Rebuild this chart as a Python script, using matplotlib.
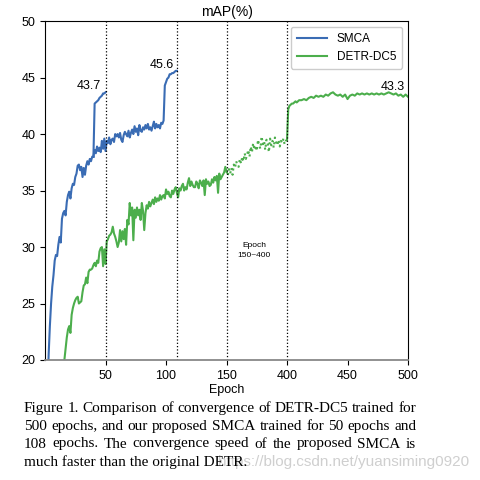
import numpy as np
import matplotlib
matplotlib.use("Agg")
import matplotlib.pyplot as plt

# SMCA, shared part (epochs 1..40)
smca_ep = list(range(1, 41))
smca_val = [12.0, 17.0, 20.5, 23.0, 25.0, 26.5, 27.5, 28.8, 29.3, 29.2,
            30.2, 30.9, 30.4, 32.5, 33.0, 33.2, 32.8, 34.0, 34.6, 34.9,
            34.3, 35.2, 35.6, 35.5, 36.2, 36.5, 37.2, 37.3, 36.8, 37.1,
            36.2, 37.0, 36.4, 37.2, 37.6, 37.3, 37.8, 37.6, 38.0, 38.0]

# SMCA 50-epoch schedule (after lr drop)
smca50_ep = [40, 41, 42, 43, 44, 45, 46, 47, 48, 49, 50]
smca50_val = [38.0, 42.7, 42.8, 42.9, 43.0, 43.2, 43.3, 43.4, 43.6, 43.6, 43.7]

# SMCA 108-epoch schedule
smca108_ep = list(range(40, 110))
smca108_val = [38.0, 38.6, 38.3, 38.9, 38.5, 38.8, 38.4, 39.4, 38.7, 39.6,
               38.5, 39.4, 39.2, 39.7, 39.1, 39.5, 39.6, 39.3, 40.0, 39.8,
               40.0, 39.7, 40.1, 39.5, 39.3, 39.9, 40.2, 40.0, 39.8, 40.3,
               39.7, 40.1, 40.4, 40.0, 40.7, 40.2, 40.5, 39.9, 40.8, 40.3,
               40.2, 40.6, 40.4, 40.8, 40.5, 40.9, 40.4, 40.6, 40.3, 40.7,
               41.1, 40.5, 40.9, 40.6, 40.8, 40.5, 41.0, 40.9, 41.2, 44.3,
               44.6, 44.9, 45.0, 45.3, 45.3, 45.4, 45.4, 45.5, 45.6, 45.6]

# DETR-DC5 epochs 15..150
detr_ep = list(range(15, 151))
detr_val = [19.5, 20.0, 21.0, 22.0, 22.7, 23.0, 22.4, 24.0, 24.6, 25.0,
            25.3, 25.5, 25.6, 25.0, 25.1, 25.2, 26.0, 26.6, 26.7, 27.3,
            26.8, 27.8, 28.0, 28.0, 28.1, 28.4, 28.6, 28.3, 28.8, 28.6,
            29.6, 29.9, 30.0, 28.3, 29.8, 28.5, 30.5, 30.7, 31.0, 31.1,
            31.3, 31.8, 31.2, 30.9, 30.5, 30.0, 30.4, 31.5, 30.5, 31.4,
            30.7, 31.6, 30.2, 32.4, 32.0, 33.9, 32.8, 33.5, 30.6, 33.3,
            32.6, 33.5, 32.8, 33.3, 32.4, 33.9, 33.2, 31.5, 33.0, 33.7,
            33.4, 34.0, 33.6, 33.9, 34.2, 33.8, 34.4, 34.0, 34.3, 34.1,
            34.6, 34.2, 34.5, 34.6, 34.3, 35.1, 34.7, 34.9, 34.5, 34.4,
            35.0, 34.7, 35.1, 35.3, 34.8, 34.4, 35.2, 35.0, 35.4, 35.6,
            35.0, 35.3, 35.1, 35.7, 36.1, 35.4, 35.8, 35.5, 35.3, 35.3,
            35.8, 35.6, 35.2, 35.9, 35.7, 35.4, 35.9, 34.6, 36.0, 35.6,
            35.8, 35.4, 35.5, 36.0, 35.7, 36.2, 35.9, 36.3, 34.8, 36.5,
            36.0, 36.2, 36.4, 36.6, 37.1, 36.7]

# DETR-DC5 epochs 150..400 (compressed, dotted)
detr_mid_ep = list(range(150, 401, 5))
detr_mid_val = [36.7, 36.3, 36.9, 36.5, 37.0, 36.4, 37.3, 37.0, 37.6, 37.2,
                37.1, 37.8, 37.4, 38.0, 37.6, 38.3, 37.8, 38.2, 38.6, 38.0,
                38.9, 38.4, 39.2, 38.6, 39.0, 38.5, 39.5, 39.0, 38.7, 39.8,
                39.1, 39.4, 38.6, 39.5, 39.2, 38.4, 39.6, 39.0, 39.4, 38.8,
                39.7, 39.3, 39.0, 39.5, 38.9, 39.4, 39.2, 39.6, 39.1, 39.4,
                39.5]

# DETR-DC5 epochs 400..500
detr_end_ep = [400, 401, 402, 403, 404, 405, 406, 407, 408, 409] + list(range(410, 501, 2))
detr_end_val = [39.5, 42.2, 42.5, 42.6, 42.7, 42.7, 42.8, 42.9, 42.8, 42.9,
                43.0, 43.0, 43.1, 43.0, 43.2, 43.3, 43.2, 43.4, 43.3, 43.4,
                43.3, 43.5, 43.4, 43.6, 43.7, 43.5, 43.4, 43.5, 43.3, 43.5,
                43.1, 43.4, 43.5, 43.4, 43.6, 43.5, 43.6, 43.5, 43.6, 43.5,
                43.6, 43.5, 43.6, 43.5, 43.6, 43.5, 43.6, 43.7, 43.6, 43.5,
                43.6, 43.4, 43.5, 43.3, 43.5, 43.3]

vlines = [50, 109, 150, 400]
xticks = [50, 100, 150, 400, 450, 500]
yticks = [20, 25, 30, 35, 40, 45, 50]

caption = ["Figure 1. Comparison of convergence of DETR-DC5 trained for",
           "500 epochs, and our proposed SMCA trained for 50 epochs and",
           "108 epochs.  The convergence speed of the proposed SMCA is",
           "much faster than the original DETR."]

blue = "#3a6cb4"
green = "#4cae4c"


def fwd(x):
    x = np.asarray(x, dtype=float)
    return np.where(x <= 150, x, np.where(x <= 400, 150 + (x - 150) / 5.0, x - 200))


def inv(u):
    u = np.asarray(u, dtype=float)
    return np.where(u <= 150, u, np.where(u <= 200, 150 + (u - 150) * 5.0, u + 200))


plt.rcParams["font.family"] = ["Liberation Sans", "DejaVu Sans"]

fig = plt.figure(figsize=(4.81, 4.80), dpi=100)
ax = fig.add_axes([0.0936, 0.25, 0.7547, 0.706])
ax.set_xscale("function", functions=(fwd, inv))

ax.plot(smca_ep, smca_val, color=blue, lw=1.5, label="SMCA")
ax.plot(smca50_ep, smca50_val, color=blue, lw=1.5)
ax.plot(smca108_ep, smca108_val, color=blue, lw=1.5)
ax.plot(detr_ep, detr_val, color=green, lw=1.5, label="DETR-DC5")
ax.plot(detr_mid_ep, detr_mid_val, color=green, lw=1.5, ls=":")
ax.plot(detr_end_ep, detr_end_val, color=green, lw=1.5)

for v in vlines:
    ax.axvline(v, color="black", ls=":", lw=0.9)

ax.annotate("43.7", (50, 43.7), textcoords="offset points", xytext=(-3, 0),
            ha="right", va="bottom", fontsize=9)
ax.annotate("45.6", (109, 45.6), textcoords="offset points", xytext=(-2, 0),
            ha="right", va="bottom", fontsize=9)
ax.annotate("43.3", (497, 43.6), textcoords="offset points", xytext=(0, 0),
            ha="right", va="bottom", fontsize=9)
ax.text(265, 29.7, "Epoch\n150~400", ha="center", va="center", fontsize=6,
        linespacing=1.6)

ax.set_xlim(0, 500)
ax.set_ylim(20, 50)
ax.set_xticks(xticks)
ax.set_xticklabels([str(t) for t in xticks])
ax.set_yticks(yticks)
ax.tick_params(labelsize=9, length=3.5, width=0.8)
ax.set_xlabel("Epoch", fontsize=9, labelpad=2)
ax.set_title("mAP(%)", fontsize=10, pad=4)
ax.spines["bottom"].set_color("#888888")
ax.spines["bottom"].set_linewidth(1.3)
ax.legend(loc="upper right", fontsize=8.5, handlelength=2.6, framealpha=1,
          edgecolor="#cccccc", borderpad=0.5)

# caption, justified between x0 and x1 (figure pixels)
serif = ["Liberation Serif", "DejaVu Serif"]
x0, x1 = 24, 416
W = fig.bbox.width
renderer = fig.canvas.get_renderer()
ys = [0.149, 0.112, 0.075, 0.038]
for i, (line, y) in enumerate(zip(caption, ys)):
    words = line.split()
    if i == len(caption) - 1:
        fig.text(x0 / W, y, line, family=serif, fontsize=11.0, va="center", ha="left")
        continue
    texts = [fig.text(0, y, w, family=serif, fontsize=11.0, va="center", ha="left")
             for w in words]
    widths = [t.get_window_extent(renderer).width for t in texts]
    gap = (x1 - x0 - sum(widths)) / (len(words) - 1)
    x = x0
    for t, w in zip(texts, widths):
        t.set_x(x / W)
        x += w + gap

fig.text(0.975, 0.038, "https://blog.csdn.net/yuansiming0920", color="#cfcfcf",
         fontsize=11, va="center", ha="right", zorder=-1)

fig.savefig("out.png", dpi=100)
